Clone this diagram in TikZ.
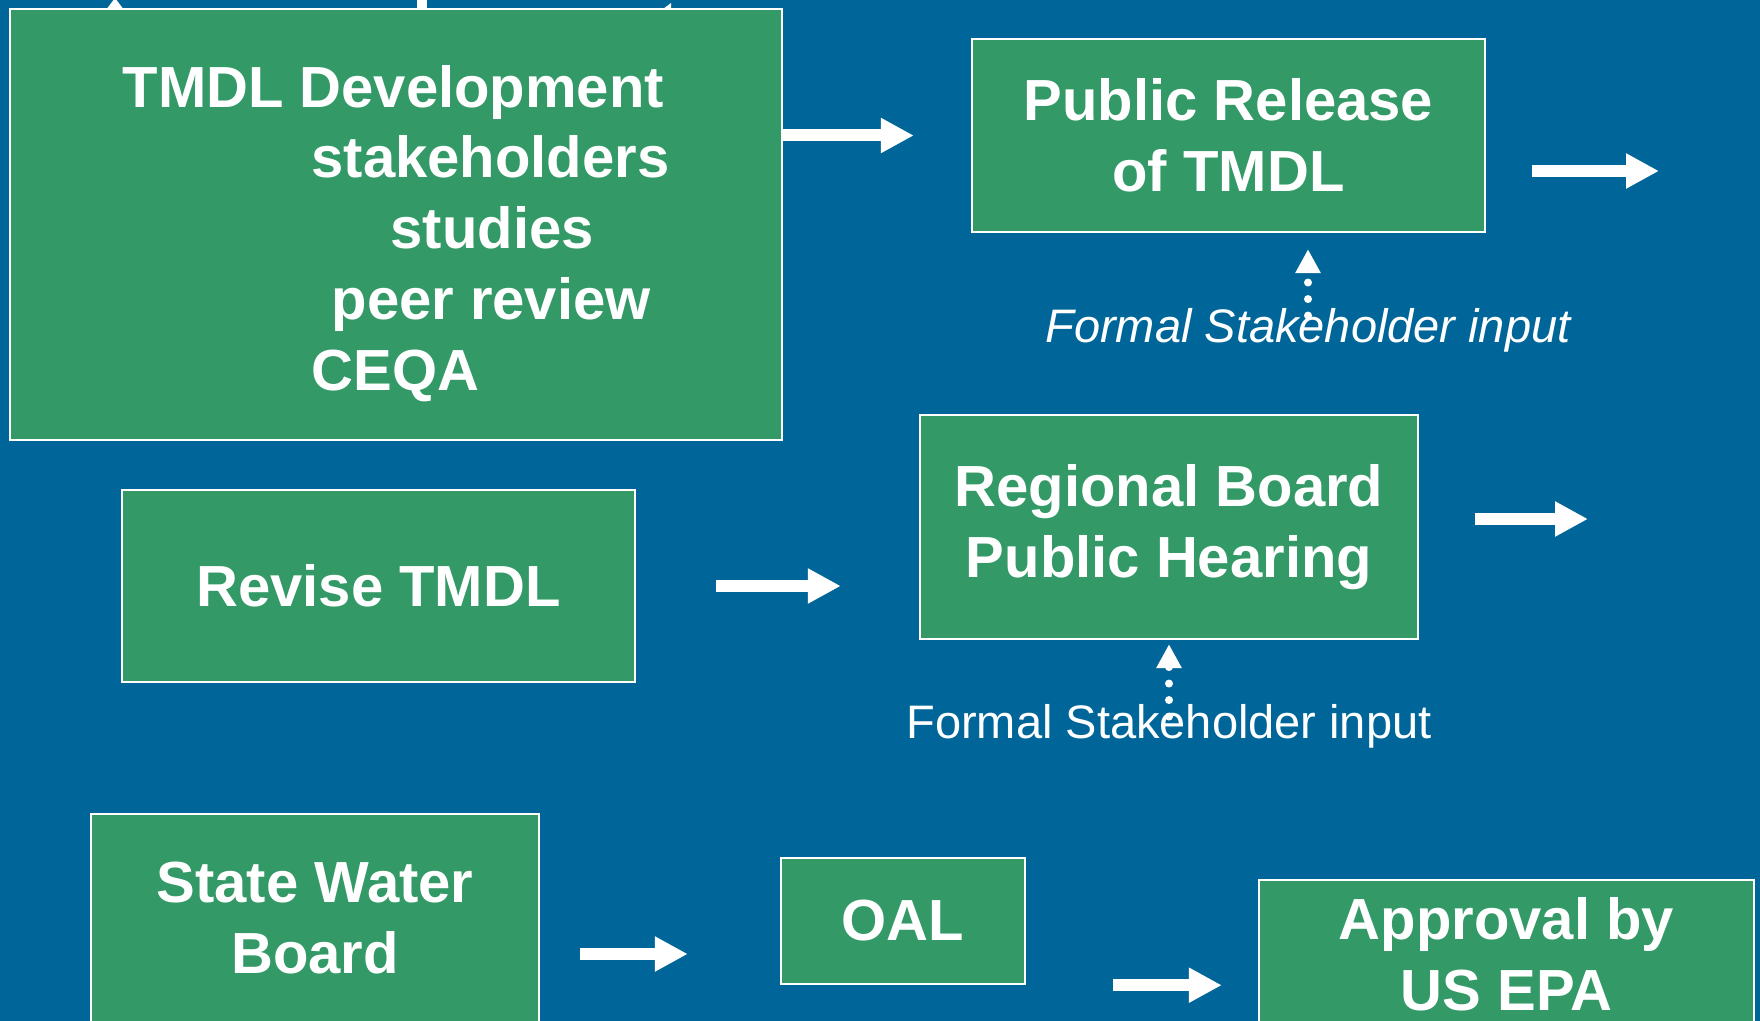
\documentclass[tikz,border=0pt]{standalone}
\usepackage{fontspec}
\setmainfont{Liberation Sans}
\usetikzlibrary{arrows.meta}
\definecolor{bgblue}{RGB}{0,102,153}
\definecolor{boxgreen}{RGB}{51,153,102}
\tikzset{
  stagebox/.style={draw=white, line width=1.2pt, fill=boxgreen, text=white, align=center,
    font=\fontsize{29}{35.4}\selectfont\bfseries},
  bigarrow/.style={white, line width=6pt, -{Triangle[length=16.5pt,width=16.5pt]}},
  dotarrow/.style={white, line width=4pt, line cap=round, dash pattern=on 0pt off 8.25pt,
    -{Triangle[length=12pt,width=12pt]}},
  inputlabel/.style={text=white, inner sep=0pt, anchor=base, font=\fontsize{23.5}{28}\selectfont}
}
\begin{document}
\begin{tikzpicture}[x=0.5pt, y=-0.5pt]
    \useasboundingbox (0,0) rectangle (1760,1021);
    \fill[bgblue] (0,0) rectangle (1760,1021);
    % bits of arrows coming from above
    \fill[white] (115,-2) -- (124,10) -- (106,10) -- cycle;
    \fill[white] (417,-5) rectangle (427,10);
    \fill[white] (663,9) -- (671,9) -- (671,3) -- cycle;

    \node[stagebox, minimum width=386pt, minimum height=215.5pt, align=left] (dev) at (396,224.5)
        {\rule{0pt}{30pt}TMDL Development\\ \hspace*{94.5pt}stakeholders\\ \hspace*{134pt}studies\\
         \hspace*{104.5pt}peer review\\ \hspace*{94.5pt}CEQA};
    \node[stagebox, minimum width=256.5pt, minimum height=96.5pt] (rel) at (1228.5,135.5) {Public Release\\ of TMDL};
    \node[stagebox, minimum width=249pt, minimum height=112pt] (reg) at (1169,527) {Regional Board\\ Public Hearing};
    \node[stagebox, minimum width=256.5pt, minimum height=96pt] (rev) at (378.5,586) {Revise TMDL};
    \node[stagebox, minimum width=224pt, minimum height=104pt] (swb) at (315,918) {State Water\\ Board};
    \node[stagebox, minimum width=122pt, minimum height=63pt] (oal) at (903,921) {OAL};
    \node[stagebox, minimum width=247.5pt, minimum height=74pt] (app) at (1506.5,954) {Approval by\\ US EPA};

    \node[inputlabel, font=\fontsize{23.5}{28}\selectfont\itshape] (fsi1) at (1308,343) {Formal Stakeholder input};
    \node[inputlabel] (fsi2) at (1169,738) {Formal Stakeholder input};

    \coordinate (a2) at (1659,171);
    \coordinate (a3) at (1588,519);
    \coordinate (a5) at ([yshift=-18pt]swb.east);
    \coordinate (t1) at (fsi1.north |- rel.south);
    \coordinate (t2) at (fsi2.north |- reg.south);

    \draw[bigarrow] (dev.east |- rel.west) -- ([xshift=-28.5pt]rel.west);
    \draw[bigarrow, shorten <=23pt] (rel.east |- a2) -- (a2);
    \draw[bigarrow, shorten <=28pt] (reg.east |- a3) -- (a3);
    \draw[bigarrow, shorten <=40pt, shorten >=39pt] (rev.east) -- (rev.east -| reg.west);
    \draw[bigarrow, shorten <=20pt, shorten >=46pt] (a5) -- (a5 -| oal.west);
    \draw[bigarrow, shorten <=43.5pt, shorten >=18pt] (oal.south east) -- (oal.south east -| app.west);

    \draw[dotarrow] ([yshift=-3.5pt]fsi1.north) -- ([yshift=-8pt]t1);
    \draw[dotarrow] ([yshift=-6.5pt]fsi2.north) -- ([yshift=-2pt]t2);
\end{tikzpicture}
\end{document}
